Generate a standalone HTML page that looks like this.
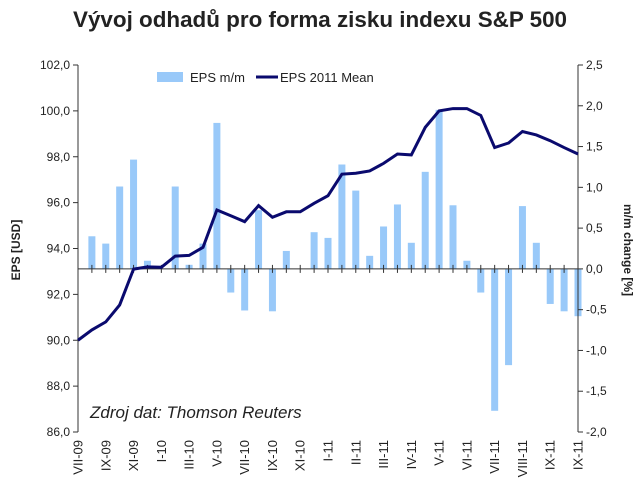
<!DOCTYPE html>
<html><head><meta charset="utf-8"><style>
body{margin:0;background:#fff;}
svg text{font-family:"Liberation Sans",sans-serif;fill:#222;}
</style></head><body>
<svg width="640" height="487">
<text x="320" y="27" text-anchor="middle" font-size="22" font-weight="bold" textLength="494" lengthAdjust="spacingAndGlyphs">Vývoj odhadů pro forma zisku indexu S&amp;P 500</text>
<g id="bars"></g><g id="axes"></g><path id="line" fill="none" stroke="#0a0a6e" stroke-width="3"/>
<g>
<rect x="157" y="72" width="26" height="10" fill="#99c9f9"/>
<text x="190" y="82" font-size="13">EPS m/m</text>
<line x1="256" y1="77" x2="278" y2="77" stroke="#0a0a6e" stroke-width="3"/>
<text x="280" y="82" font-size="13">EPS 2011 Mean</text>
</g>
<text x="90" y="418" font-size="17" font-style="italic">Zdroj dat: Thomson Reuters</text>
<text transform="translate(20,250) rotate(-90)" text-anchor="middle" font-size="12" font-weight="bold">EPS [USD]</text>
<text transform="translate(624,250) rotate(90)" text-anchor="middle" font-size="12" font-weight="bold">m/m change [%]</text>
</svg>
<script>
const meanValues=[90.0,90.45,90.8,91.54,93.1,93.2,93.18,93.67,93.7,94.05,95.68,95.43,95.17,95.87,95.36,95.6,95.6,95.97,96.3,97.24,97.28,97.38,97.71,98.12,98.08,99.28,100.0,100.1,100.1,99.8,98.4,98.6,99.1,98.95,98.7,98.4,98.12];
const changeValues=[0,0.40,0.31,1.01,1.34,0.10,0,1.01,0.05,0.31,1.79,-0.29,-0.51,0.72,-0.52,0.22,0,0.45,0.38,1.28,0.96,0.16,0.52,0.79,0.32,1.19,1.95,0.78,0.10,-0.29,-1.74,-1.18,0.77,0.32,-0.43,-0.52,-0.58];
const leftTicks=["102,0","100,0","98,0","96,0","94,0","92,0","90,0","88,0","86,0"];
const leftTickValues=[102,100,98,96,94,92,90,88,86];
const rightTicks=["2,5","2,0","1,5","1,0","0,5","0,0","-0,5","-1,0","-1,5","-2,0"];
const rightTickValues=[2.5,2,1.5,1,0.5,0,-0.5,-1,-1.5,-2];
const monthLabels=["VII-09","IX-09","XI-09","I-10","III-10","V-10","VII-10","IX-10","XI-10","I-11","II-11","III-11","IV-11","V-11","VI-11","VII-11","VIII-11","IX-11","IX-11"];
const NS="http://www.w3.org/2000/svg";
const X0=78,X1=578,TOP=65,BOT=432;
const xAt=i=>X0+i*(X1-X0)/(meanValues.length-1);
const yL=v=>TOP+(102-v)*(BOT-TOP)/16;
const yR=v=>TOP+(2.5-v)*(BOT-TOP)/4.5;
function mk(tag,attrs,parent){const e=document.createElementNS(NS,tag);for(const k in attrs)e.setAttribute(k,attrs[k]);parent.appendChild(e);return e;}
const bars=document.getElementById('bars'),axes=document.getElementById('axes');
changeValues.forEach((v,i)=>{if(v===0)return;const y0=yR(0),y=yR(v);
const r=mk('rect',{x:xAt(i)-3.5,y:Math.min(y,y0),width:7,height:Math.abs(y-y0),fill:'#99c9f9'},bars);

});
document.getElementById('line').setAttribute('d',meanValues.map((v,i)=>(i?'L':'M')+xAt(i)+','+yL(v)).join(''));
mk('line',{x1:X0,y1:TOP,x2:X0,y2:BOT,stroke:'#333'},axes);
mk('line',{x1:X1,y1:TOP,x2:X1,y2:BOT,stroke:'#333'},axes);
const z=yR(0);
const zl=mk('line',{x1:X0,y1:z,x2:X1,y2:z,stroke:'#333'},axes);


meanValues.forEach((v,i)=>{mk('line',{x1:xAt(i),y1:z-4,x2:xAt(i),y2:z+4,stroke:'#333'},axes);});
leftTickValues.forEach((v,i)=>{const y=yL(v);mk('line',{x1:X0-5,y1:y,x2:X0,y2:y,stroke:'#333'},axes);
const t=mk('text',{x:X0-8,y:y+4,'text-anchor':'end','font-size':12},axes);t.textContent=leftTicks[i];

});
rightTickValues.forEach((v,i)=>{const y=yR(v);mk('line',{x1:X1,y1:y,x2:X1+5,y2:y,stroke:'#333'},axes);
const t=mk('text',{x:X1+8,y:y+4,'font-size':12},axes);t.textContent=rightTicks[i];

});
monthLabels.forEach((m,i)=>{const x=xAt(i*2);
const t=mk('text',{transform:`translate(${x+4.5},440) rotate(-90)`,'text-anchor':'end','font-size':13},axes);t.textContent=m;

});
</script>
</body></html>
